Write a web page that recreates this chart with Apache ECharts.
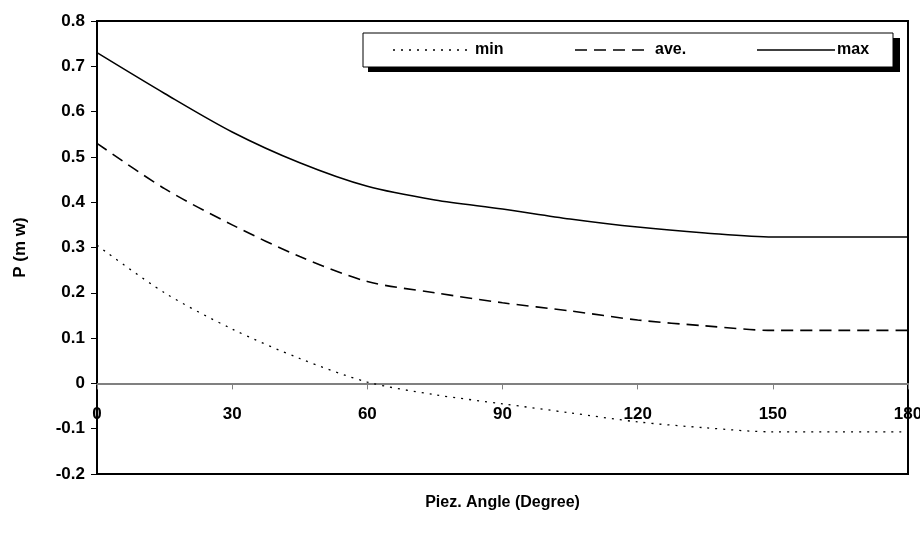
<!DOCTYPE html>
<html><head><meta charset="utf-8">
<script src="https://cdn.jsdelivr.net/npm/echarts@6/dist/echarts.min.js"></script>
<style>body{margin:0;background:#fff}#main{width:920px;height:540px}</style>
</head><body><div id="main"></div>
<script>
const angles = [0, 15, 30, 45, 60, 75, 90, 105, 120, 135, 150, 165, 180];
const minP = [0.305, 0.2, 0.12, 0.055, 0.003, -0.025, -0.045, -0.065, -0.085, -0.098, -0.107, -0.107, -0.107];
const aveP = [0.53, 0.43, 0.35, 0.28, 0.225, 0.2, 0.178, 0.16, 0.14, 0.127, 0.117, 0.117, 0.117];
const maxP = [0.73, 0.64, 0.555, 0.487, 0.435, 0.405, 0.385, 0.363, 0.345, 0.332, 0.323, 0.323, 0.323];

const font = 'Liberation Sans';
const pair = arr => angles.map((a, i) => [a, arr[i]]);
const chart = echarts.init(document.getElementById('main'));
const mkSeries = (name, data, type, width) => ({
  name, type: 'line', data: pair(data), smooth: 0.3, symbol: 'none',
  lineStyle: { color: '#000', width, type }
});
chart.setOption({
  animation: false,
  grid: { left: 97, right: 12, top: 21, bottom: 66, show: true, borderColor: '#000', borderWidth: 2,
    outerBoundsMode: 'none', containLabel: false },
  xAxis: {
    type: 'value', min: 0, max: 180, interval: 30,
    name: 'Piez. Angle (Degree)', nameLocation: 'middle', nameGap: 21,
    nameTextStyle: { fontFamily: font, fontWeight: 'bold', fontSize: 16, color: '#000' },
    axisLine: { onZero: true, lineStyle: { color: '#808080', width: 2 } },
    axisTick: { show: true, length: 6, lineStyle: { color: '#808080' } },
    axisLabel: { margin: -68, fontFamily: font, fontWeight: 'bold', fontSize: 17, color: '#000' },
    splitLine: { show: false }
  },
  yAxis: {
    type: 'value', min: -0.2, max: 0.8, interval: 0.1,
    name: 'P (m w)', nameLocation: 'middle', nameGap: 68,
    nameTextStyle: { fontFamily: font, fontWeight: 'bold', fontSize: 17, color: '#000' },
    axisLine: { show: true, lineStyle: { color: '#000', width: 2 } },
    axisTick: { show: true, length: 6, lineStyle: { color: '#000' } },
    axisLabel: { margin: 12, fontFamily: font, fontWeight: 'bold', fontSize: 17, color: '#000',
      formatter: v => (Math.round(v * 10) / 10).toString() },
    splitLine: { show: false }
  },
  series: [
    mkSeries('min', minP, [2, 6], 1.3),
    mkSeries('ave.', aveP, [12, 7], 1.6),
    mkSeries('max', maxP, 'solid', 1.5)
  ],
  graphic: [
    { type: 'rect', shape: { x: 368, y: 38, width: 532, height: 34 }, style: { fill: '#000' } },
    { type: 'rect', shape: { x: 363, y: 33, width: 530, height: 34 }, style: { fill: '#fff', stroke: '#000', lineWidth: 1 } },
    { type: 'line', shape: { x1: 393, y1: 50, x2: 468, y2: 50 }, style: { stroke: '#000', lineWidth: 1.3, lineDash: [2, 6] } },
    { type: 'text', x: 475, y: 50, style: { text: 'min', font: 'bold 16px Liberation Sans', fill: '#000', verticalAlign: 'middle' } },
    { type: 'line', shape: { x1: 575, y1: 50, x2: 650, y2: 50 }, style: { stroke: '#000', lineWidth: 1.6, lineDash: [12, 7] } },
    { type: 'text', x: 655, y: 50, style: { text: 'ave.', font: 'bold 16px Liberation Sans', fill: '#000', verticalAlign: 'middle' } },
    { type: 'line', shape: { x1: 757, y1: 50, x2: 835, y2: 50 }, style: { stroke: '#000', lineWidth: 1.5 } },
    { type: 'text', x: 837, y: 50, style: { text: 'max', font: 'bold 16px Liberation Sans', fill: '#000', verticalAlign: 'middle' } }
  ]
});
</script></body></html>
